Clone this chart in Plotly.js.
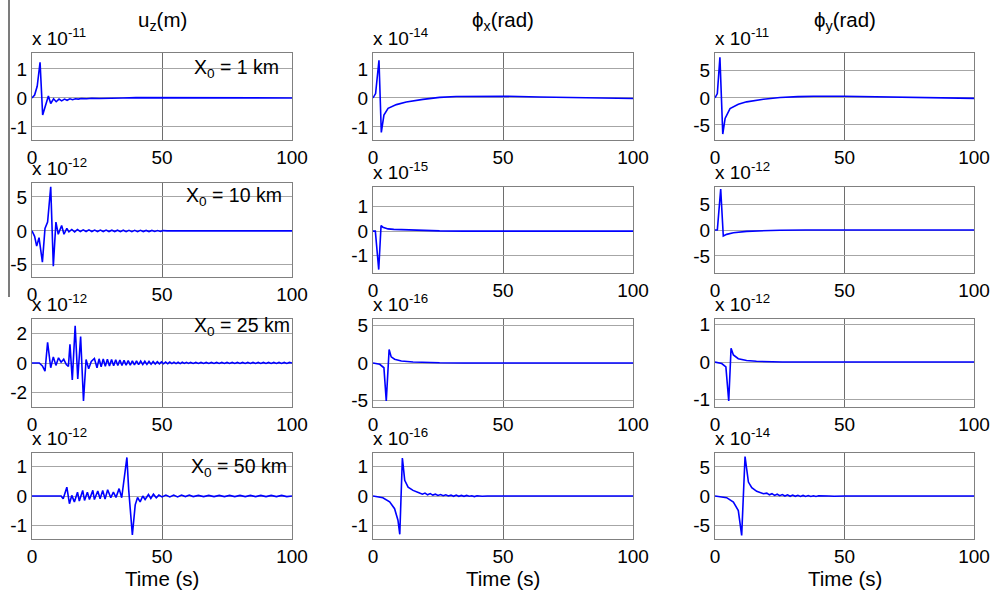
<!DOCTYPE html>
<html>
<head>
<meta charset="utf-8">
<script src="https://cdn.plot.ly/plotly-3.0.1.min.js"></script>
<style>
  html, body { margin: 0; padding: 0; background: #ffffff; }
  #chart { width: 992px; height: 591px; }
</style>
</head>
<body>
<div id="chart"></div>
<script>
// ---- data: time (s) and scaled amplitudes for each station distance ----
const t_uz1 = [0, 1, 2, 3.1, 4.1, 5.2, 6.3, 7.2, 8.3, 9.3, 10.4, 11.4, 12.5, 13.5, 14.6, 15.6, 16.7, 17.8, 19, 21, 23, 26, 30, 35, 40, 45, 50, 55, 60, 70, 80, 90, 100];
const v_uz1 = [0, 0.1, 0.4, 1.23, -0.59, -0.25, 0.07, -0.19, -0.03, -0.13, -0.04, -0.1, -0.04, -0.08, -0.03, -0.06, -0.03, -0.04, -0.02, -0.03, -0.01, -0.02, 0, 0, 0.01, 0.01, 0.01, 0.01, 0, 0, 0, 0, 0];

const t_uz10 = [0, 1, 1.8, 2.7, 4.0, 5.0, 6.0, 7.2, 8.2, 9.2, 10.1, 11.4, 12.3, 13.4, 14.2, 15.3, 16.4, 17.5, 18.6, 19.7, 20.8, 21.9, 23, 24.1, 25.2, 26.3, 27.4, 28.5, 29.6, 30.7, 31.8, 32.9, 34, 35.1, 36.2, 37.3, 38.4, 39.5, 40.6, 41.7, 42.8, 43.9, 45, 46.1, 47.2, 48.3, 49.4, 50.5, 52, 55, 60, 70, 80, 90, 100];
const v_uz10 = [0, -0.8, -2.25, -1.0, -4.6, 0.35, 1.3, 6.5, -5.2, 1.3, -0.5, 0.8, -0.5, 0.35, -0.15, 0.2, -0.15, 0.2, -0.1, 0.15, -0.1, 0.15, -0.1, 0.12, -0.1, 0.12, -0.1, 0.12, -0.1, 0.1, -0.1, 0.1, -0.12, 0.1, -0.12, 0.08, -0.12, 0.08, -0.12, 0.08, -0.1, 0.06, -0.1, 0.06, -0.08, 0.05, -0.08, 0.04, 0, -0.03, 0, 0, 0, 0, 0];

const t_uz25 = [0, 2.8, 4.0, 5.0, 6.0, 7.2, 8.2, 9.2, 10.2, 11.2, 12.2, 13.2, 14.0, 14.6, 15.5, 16.6, 17.6, 18.7, 19.8, 20.8, 21.8, 22.8, 24.0, 25.0, 25.8, 26.6, 27.4, 28.2, 29.0, 29.8, 30.6, 31.4, 32.2, 33.0, 33.8, 34.6, 35.4, 36.2, 37.0, 37.8, 38.6, 39.4, 40.2, 41.0, 41.8, 42.6, 43.4, 44.2, 45.0, 45.8, 46.6, 47.4, 48.2, 49.0, 49.8, 50.6, 51.4, 52.2, 53.0, 53.8, 54.6, 55.4, 56.2, 57.0, 57.8, 58.6, 59.4, 60.2, 61, 62, 63, 64, 65, 66, 67, 68, 69, 70, 71, 72, 73, 74, 75, 76, 77, 78, 79, 80, 81, 82, 83, 84, 85, 86, 87, 88, 89, 90, 91, 92, 93, 94, 95, 96, 97, 98, 99, 100];
const v_uz25 = [0, 0, -0.2, -0.55, 1.39, -0.32, 0.41, -0.16, 0.35, 0.05, 0.25, -0.1, -0.23, 1.25, -1.14, 2.5, -1.07, 1.77, -2.55, 0.23, -0.39, 0.1, 0.3, -0.32, 0.28, -0.25, 0.27, -0.22, 0.25, -0.2, 0.24, -0.18, 0.22, -0.17, 0.2, -0.16, 0.18, -0.15, 0.17, -0.14, 0.15, -0.12, 0.14, -0.11, 0.13, -0.1, 0.12, -0.09, 0.11, -0.08, 0.1, -0.07, 0.09, -0.06, 0.08, -0.05, 0.07, -0.05, 0.06, -0.04, 0.06, -0.04, 0.05, -0.04, 0.05, -0.03, 0.04, -0.03, 0.04, -0.03, 0.04, -0.03, 0.04, -0.03, 0.04, -0.03, 0.04, -0.03, 0.04, -0.03, 0.04, -0.03, 0.04, -0.03, 0.04, -0.03, 0.04, -0.03, 0.04, -0.03, 0.04, -0.03, 0.04, -0.03, 0.04, -0.03, 0.04, -0.03, 0.04, -0.03, 0.04, -0.03, 0.04, -0.03, 0.04, -0.03, 0.04, 0];

const t_uz50 = [0, 11.2, 12, 13.4, 14.4, 15.3, 16.3, 17.5, 18.2, 19.5, 20.2, 21.3, 22.1, 23.4, 24, 25.3, 26.2, 27.2, 28.1, 29.1, 30.3, 31.3, 32.3, 33.5, 34.5, 35.4, 36.5, 37.2, 38.0, 38.6, 39.7, 40.6, 41.6, 42.6, 43.5, 44.8, 45.7, 46.7, 47.8, 48.8, 50, 51.5, 53, 54.5, 56, 57.5, 59, 60.5, 62, 64, 66, 68, 70, 72, 74, 76, 78, 80, 82, 84, 86, 88, 90, 92, 94, 96, 98, 100];
const v_uz50 = [0, 0, -0.09, 0.3, -0.26, 0.02, -0.2, 0.13, -0.17, 0.19, -0.15, 0.13, -0.12, 0.19, -0.12, 0.17, -0.09, 0.19, -0.1, 0.21, -0.06, 0.13, -0.05, 0.25, -0.06, 0.6, 1.31, 0.2, -0.7, -1.32, -0.3, -0.05, -0.2, 0.0, -0.12, 0.05, -0.08, 0.06, -0.06, 0.03, -0.03, 0.03, -0.03, 0.03, -0.03, 0.03, -0.02, 0.03, -0.02, 0.02, -0.02, 0.02, -0.02, 0.02, -0.02, 0.02, -0.02, 0.02, -0.02, 0.02, -0.02, 0.02, -0.02, 0.02, -0.02, 0.02, -0.02, 0];

const t_phx1 = [0, 1, 2.3, 3.2, 4.2, 5.8, 9, 12.8, 19.2, 25.6, 32, 38.5, 50, 64, 77, 90, 100];
const v_phx1 = [0, 0.15, 1.3, -1.19, -0.59, -0.36, -0.23, -0.14, -0.05, 0.02, 0.05, 0.06, 0.06, 0.035, 0.01, -0.01, -0.02];

const t_phx10 = [0, 0.9, 2.2, 3.1, 3.8, 5.8, 8, 12.8, 18, 25.6, 35, 50, 75, 100];
const v_phx10 = [0, 0, -1.57, 0.23, 0.16, 0.09, 0.07, 0.05, 0.03, 0.01, 0, 0, 0, 0];

const t_phx25 = [0, 2.6, 4.2, 5.1, 6.2, 7, 8.3, 10.9, 15.4, 20, 25.6, 35, 50, 75, 100];
const v_phx25 = [0, -0.18, -0.64, -5.1, 1.82, 0.82, 0.5, 0.27, 0.14, 0.07, 0.03, 0.01, 0, 0, 0];

const t_phx50 = [0, 3.8, 6.4, 8.3, 9.6, 10.3, 11.3, 12.2, 13.5, 15.4, 17.9, 19, 20, 21, 22, 23, 24, 25, 26, 27, 28, 29, 30, 31, 32, 33, 34, 35, 36, 37, 38, 39, 40, 42, 44, 46, 48, 50, 60, 70, 80, 90, 100];
const v_phx50 = [0, -0.06, -0.2, -0.43, -0.82, -1.3, 1.29, 0.53, 0.3, 0.19, 0.1, 0.06, 0.1, 0.04, 0.08, 0.03, 0.06, 0.02, 0.05, 0.01, 0.04, 0, 0.03, -0.01, 0.03, -0.01, 0.02, -0.01, 0.02, -0.01, 0.01, -0.02, 0.01, -0.01, 0, -0.01, 0, 0, 0, 0, 0, 0, 0];

const t_phy1 = [0, 0.9, 1.9, 3.0, 3.9, 5.8, 9, 12.2, 18.7, 25.1, 32, 38, 49.5, 63.7, 76.6, 90, 100];
const v_phy1 = [0, 0.8, 7.5, -6.7, -3.8, -2.0, -1.2, -0.74, -0.25, 0.06, 0.22, 0.3, 0.3, 0.19, 0.06, -0.05, -0.1];

const t_phy10 = [0, 0.9, 2.2, 3.2, 4.5, 7.1, 12.2, 18, 25, 35, 50, 75, 100];
const v_phy10 = [0, 0, 7.9, -1.17, -0.84, -0.52, -0.26, -0.12, -0.04, 0, 0, 0, 0];

const t_phy25 = [0, 2.6, 4.2, 5.3, 6.2, 7.1, 9, 12.2, 16, 20, 26, 35, 50, 75, 100];
const v_phy25 = [0, -0.04, -0.13, -1.04, 0.37, 0.19, 0.09, 0.04, 0.02, 0.01, 0, 0, 0, 0, 0];

const t_phy50 = [0, 4.5, 7.1, 9, 10.3, 11.6, 12.9, 14.2, 16.1, 18.7, 20, 21, 22, 23, 24, 25, 26, 27, 28, 29, 30, 31, 32, 33, 34, 35, 36, 37, 38, 39, 40, 42, 44, 46, 48, 50, 60, 70, 80, 90, 100];
const v_phy50 = [0, -0.29, -1.03, -2.5, -6.8, 6.8, 2.4, 1.44, 0.8, 0.4, 0.5, 0.2, 0.4, 0.1, 0.3, 0.05, 0.25, 0, 0.2, -0.05, 0.15, -0.05, 0.12, -0.08, 0.1, -0.08, 0.08, -0.08, 0.05, -0.08, 0.03, -0.05, 0, -0.05, 0, 0, 0, 0, 0, 0, 0];

// ---- labels ----
const columnTitles = ['u<sub>z</sub>(m)', '\u03D5<sub>x</sub>(rad)', '\u03D5<sub>y</sub>(rad)'];
const distanceLabels = ['X<sub>0</sub> = 1 km', 'X<sub>0</sub> = 10 km', 'X<sub>0</sub> = 25 km', 'X<sub>0</sub> = 50 km'];
// power-of-ten multipliers, row by row (u_z, phi_x, phi_y)
const exponents = [[-11, -14, -11], [-12, -15, -12], [-12, -16, -12], [-12, -16, -14]];
const xTickVals = [0, 50, 100];
const xTickText = ['0', '50', '100'];
const xLabel = 'Time (s)';
// y ticks per panel (row-major)
const yTickVals = [
  [-1, 0, 1], [-1, 0, 1], [-5, 0, 5],
  [-5, 0, 5], [-1, 0, 1], [-5, 0, 5],
  [-2, 0, 2], [-5, 0, 5], [-1, 0, 1],
  [-1, 0, 1], [-1, 0, 1], [-5, 0, 5]
];

const seriesT = [t_uz1, t_phx1, t_phy1, t_uz10, t_phx10, t_phy10, t_uz25, t_phx25, t_phy25, t_uz50, t_phx50, t_phy50];
const seriesV = [v_uz1, v_phx1, v_phy1, v_uz10, v_phx10, v_phy10, v_uz25, v_phx25, v_phy25, v_uz50, v_phx50, v_phy50];

// ---- layout geometry (pixels) ----
const W = 992, H = 591;
const colX = [[32, 292], [373, 633], [715, 974]];
const rowY = [
  [[53, 140], [53, 140], [53, 140]],
  [[183, 277], [187, 273], [187, 273]],
  [[319, 407], [319, 407], [319, 407]],
  [[453, 539], [453, 539], [453, 539]]
];
const yRanges = [
  [-1.45, 1.55], [-1.45, 1.55], [-7.8, 8.3],
  [-6.8, 7.05], [-1.71, 1.8], [-8.3, 8.3],
  [-2.95, 2.95], [-5.9, 5.9], [-1.2, 1.15],
  [-1.46, 1.46], [-1.46, 1.46], [-7.4, 7.4]
];

const FONT = 'Liberation Sans, Arial, Helvetica, sans-serif';
const px2x = p => p / W;
const px2y = p => 1 - p / H;
const tickTxt = v => v.map(n => String(n));

const traces = [];
const layout = {
  width: W, height: H,
  margin: { l: 0, r: 0, t: 0, b: 0 },
  paper_bgcolor: '#ffffff',
  plot_bgcolor: '#ffffff',
  showlegend: false,
  font: { family: FONT, size: 19, color: '#000000' },
  annotations: [],
  shapes: []
};

for (let r = 0; r < 4; r++) {
  for (let c = 0; c < 3; c++) {
    const k = r * 3 + c;
    const n = k + 1;
    const xa = n === 1 ? 'x' : 'x' + n;
    const ya = n === 1 ? 'y' : 'y' + n;
    traces.push({
      x: seriesT[k], y: seriesV[k],
      xaxis: xa, yaxis: ya,
      type: 'scatter', mode: 'lines',
      line: { color: '#0000ff', width: 1.6 },
      hoverinfo: 'skip'
    });
    const [top, bot] = rowY[r][c];
    layout['xaxis' + (n === 1 ? '' : n)] = {
      domain: [px2x(colX[c][0]), px2x(colX[c][1])],
      anchor: ya,
      range: [0, 100],
      tickvals: xTickVals, ticktext: xTickText,
      showgrid: true, gridcolor: '#6e6e6e', gridwidth: 1,
      zeroline: false,
      showline: true, mirror: true, linecolor: '#808080', linewidth: 1,
      ticks: '', tickfont: { family: FONT, size: 19, color: '#000' },
      fixedrange: true
    };
    layout['yaxis' + (n === 1 ? '' : n)] = {
      domain: [px2y(bot), px2y(top)],
      anchor: xa,
      range: yRanges[k],
      tickvals: yTickVals[k], ticktext: tickTxt(yTickVals[k]),
      showgrid: true, gridcolor: '#a6a6a6', gridwidth: 1,
      zeroline: false,
      showline: true, mirror: true, linecolor: '#808080', linewidth: 1,
      ticks: '', tickfont: { family: FONT, size: 19, color: '#000' },
      fixedrange: true
    };
    // multiplier above each panel
    layout.annotations.push({
      xref: 'paper', yref: 'paper',
      x: px2x(colX[c][0] - 2), y: px2y(top - 2),
      xanchor: 'left', yanchor: 'bottom',
      text: 'x 10<sup>' + exponents[r][c] + '</sup>',
      showarrow: false,
      font: { family: FONT, size: 19, color: '#000' }
    });
  }
  // source distance label inside the u_z panel
  layout.annotations.push({
    xref: 'paper', yref: 'paper',
    x: px2x([281, 284, 292, 289][r]), y: px2y([68, 197, 326, 467][r]),
    xanchor: 'right', yanchor: 'middle',
    text: distanceLabels[r],
    showarrow: false,
    font: { family: FONT, size: 19.5, color: '#000' }
  });
}

// column titles and bottom axis labels
for (let c = 0; c < 3; c++) {
  const cx = (colX[c][0] + colX[c][1]) / 2;
  layout.annotations.push({
    xref: 'paper', yref: 'paper',
    x: px2x(cx), y: px2y(21),
    xanchor: 'center', yanchor: 'middle',
    text: columnTitles[c], showarrow: false,
    font: { family: FONT, size: 20.5, color: '#000' }
  });
  layout.annotations.push({
    xref: 'paper', yref: 'paper',
    x: px2x(cx), y: px2y(578),
    xanchor: 'center', yanchor: 'middle',
    text: xLabel, showarrow: false,
    font: { family: FONT, size: 20.5, color: '#000' }
  });
}

// thin rule along the left edge
layout.shapes.push({
  type: 'line', xref: 'paper', yref: 'paper',
  x0: px2x(9), x1: px2x(9), y0: px2y(0), y1: px2y(297),
  line: { color: '#505050', width: 1.5 }
});

Plotly.newPlot('chart', traces, layout, { displayModeBar: false, staticPlot: true });
</script>
</body>
</html>
